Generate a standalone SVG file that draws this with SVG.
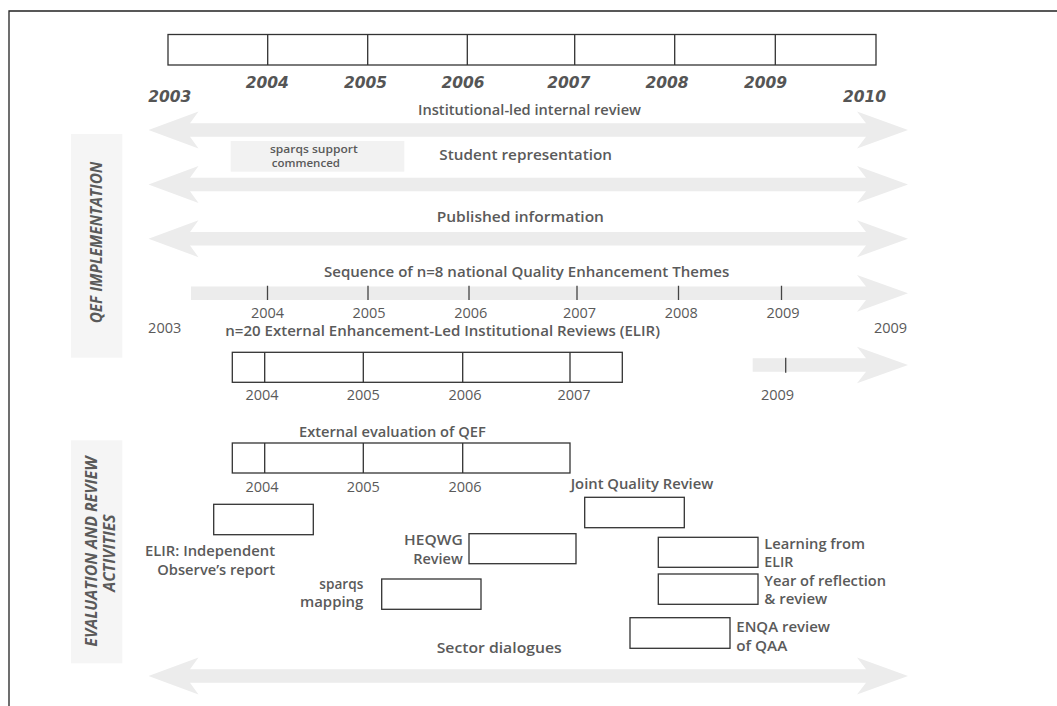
<svg xmlns="http://www.w3.org/2000/svg" width="1057" height="706" viewBox="0 0 1057 706">
<defs>
<style>
.frame{fill:none;stroke:#222;stroke-width:1.3}
.box{fill:#fff;stroke:#333;stroke-width:1.3}
.div{stroke:#333;stroke-width:1.3}
.tick{stroke:#444;stroke-width:1.3}
.arr{fill:#ececec}
.side{fill:#f5f5f5}
.lbl{font-family:"Open Sans","Liberation Sans",sans-serif;font-weight:600;font-size:13.5px;fill:#5a5a5a}
.small{font-family:"Open Sans","Liberation Sans",sans-serif;font-weight:600;font-size:9.8px;fill:#5a5a5a}
.yr{font-family:"Open Sans","Liberation Sans",sans-serif;font-weight:400;font-size:14.5px;fill:#5a5a5a;text-anchor:middle}
.byr{font-family:"DejaVu Sans",sans-serif;font-weight:700;font-style:italic;font-size:15.5px;fill:#555;text-anchor:middle}
.sidet{font-family:"Open Sans","Liberation Sans",sans-serif;font-weight:700;font-style:italic;font-size:15.5px;fill:#5a5a5a}
</style>
</defs>
<rect width="1057" height="706" fill="#fff"/>
<path class="frame" d="M9,706 V11 H1057"/>

<g id="timeline-top">
<rect class="box" x="168" y="34.5" width="708" height="30.5"/>
<path class="div" d="M267.7,34.5V65 M367.7,34.5V65 M467.3,34.5V65 M574.7,34.5V65 M674.7,34.5V65 M775.3,34.5V65"/>
<text class="byr" x="169.7" y="101.7">2003</text>
<text class="byr" x="267.2" y="88.3">2004</text>
<text class="byr" x="365.5" y="88.3">2005</text>
<text class="byr" x="463" y="88.3">2006</text>
<text class="byr" x="568.8" y="88.3">2007</text>
<text class="byr" x="667" y="88.3">2008</text>
<text class="byr" x="765.5" y="88.3">2009</text>
<text class="byr" x="864.5" y="101.7">2010</text>
</g>

<g id="side-qef">
<rect class="side" x="71" y="134" width="51.3" height="223.7"/>
<text class="sidet" transform="translate(101.5,323.3) rotate(-90)" x="0" y="0" textLength="161.6" lengthAdjust="spacingAndGlyphs">QEF IMPLEMENTATION</text>
</g>

<g id="side-eval">
<rect class="side" x="71" y="440.3" width="51.3" height="223"/>
<text class="sidet" transform="translate(97.3,646.7) rotate(-90)" x="0" y="0" textLength="190" lengthAdjust="spacingAndGlyphs">EVALUATION AND REVIEW</text>
<text class="sidet" transform="translate(115,591.7) rotate(-90)" x="0" y="0" textLength="77.4" lengthAdjust="spacingAndGlyphs">ACTIVITIES</text>
</g>

<g id="connectors">
<path id="arrow-institutional" class="arr" d="M148.5,130 L198.5,111.5 L190,123.3 L866,123.3 L857,111.5 L908,130 L857,148.5 L866,136.7 L190,136.7 L198.5,148.5 Z"/>
<path id="arrow-student" class="arr" d="M148.5,184.5 L198.5,166 L190,177.8 L866,177.8 L857,166 L908,184.5 L857,203 L866,191.2 L190,191.2 L198.5,203 Z"/>
<path id="arrow-published" class="arr" d="M148.5,238.7 L198.5,220.2 L190,232 L866,232 L857,220.2 L908,238.7 L857,257.2 L866,245.4 L190,245.4 L198.5,257.2 Z"/>
<path id="arrow-themes" class="arr" d="M191,286.5 L866,286.5 L857,275 L908,293.3 L857,311.7 L866,300 L191,300 Z"/>
<path id="arrow-elir2009" class="arr" d="M752.7,358.3 L866,358.3 L857,346.7 L908,365 L857,383.3 L866,371.7 L752.7,371.7 Z"/>
<path id="arrow-sector" class="arr" d="M148.5,676 L198.5,657.5 L190,669.3 L866,669.3 L857,657.5 L908,676 L857,694.5 L866,682.7 L190,682.7 L198.5,694.5 Z"/>
</g>

<g id="institutional-review">
<text class="lbl" x="418" y="115" textLength="223" lengthAdjust="spacingAndGlyphs">Institutional-led internal review</text>
</g>

<g id="student-representation">
<rect x="230.7" y="141" width="173.6" height="30.7" fill="#f2f2f2"/>
<text class="small" x="270" y="153.3" textLength="87.7" lengthAdjust="spacingAndGlyphs">sparqs support</text>
<text class="small" x="271.7" y="167" textLength="68.3" lengthAdjust="spacingAndGlyphs">commenced</text>
<text class="lbl" x="439.3" y="160" textLength="172.7" lengthAdjust="spacingAndGlyphs">Student representation</text>
</g>

<g id="published-information">
<text class="lbl" x="436.7" y="221.7" textLength="167.3" lengthAdjust="spacingAndGlyphs">Published information</text>
</g>

<g id="themes">
<text class="lbl" x="324" y="277.3" textLength="405.3" lengthAdjust="spacingAndGlyphs">Sequence of n=8 national Quality Enhancement Themes</text>
<path class="tick" d="M267.5,285.7V300 M368,285.7V300 M469,285.7V300 M577,285.7V300 M678.5,285.7V300 M781.5,285.7V300"/>
<text class="yr" x="164.7" y="333">2003</text>
<text class="yr" x="267.5" y="318">2004</text>
<text class="yr" x="369" y="318">2005</text>
<text class="yr" x="470.8" y="318">2006</text>
<text class="yr" x="579.5" y="318">2007</text>
<text class="yr" x="681.3" y="318">2008</text>
<text class="yr" x="783" y="318">2009</text>
<text class="yr" x="890.5" y="333">2009</text>
</g>

<g id="elir">
<text class="lbl" x="225.3" y="335.7" textLength="434.7" lengthAdjust="spacingAndGlyphs">n=20 External Enhancement-Led Institutional Reviews (ELIR)</text>
<rect class="box" x="232.3" y="352.3" width="390" height="30"/>
<path class="div" d="M264.7,352.3V382.3 M363.3,352.3V382.3 M462.7,352.3V382.3 M570,352.3V382.3"/>
<path class="tick" d="M785.7,357.7V372.7"/>
<text class="yr" x="262" y="400">2004</text>
<text class="yr" x="363.3" y="400">2005</text>
<text class="yr" x="465" y="400">2006</text>
<text class="yr" x="574" y="400">2007</text>
<text class="yr" x="777.5" y="400">2009</text>
</g>

<g id="external-evaluation">
<text class="lbl" x="299" y="436.7" textLength="186.7" lengthAdjust="spacingAndGlyphs">External evaluation of QEF</text>
<rect class="box" x="232.3" y="443" width="337.7" height="30"/>
<path class="div" d="M264.7,443V473 M363.3,443V473 M462.7,443V473"/>
<text class="yr" x="262" y="492">2004</text>
<text class="yr" x="363.3" y="492">2005</text>
<text class="yr" x="465" y="492">2006</text>
</g>

<g id="elir-observer">
<rect class="box" x="213.7" y="504.3" width="99.6" height="30.4"/>
<text class="lbl" x="145" y="555.7" textLength="130" lengthAdjust="spacingAndGlyphs">ELIR: Independent</text>
<text class="lbl" x="157.3" y="575" textLength="117.7" lengthAdjust="spacingAndGlyphs">Observe’s report</text>
</g>

<g id="heqwg">
<rect class="box" x="469" y="533.7" width="107" height="30"/>
<text class="lbl" x="404" y="545" textLength="58.7" lengthAdjust="spacingAndGlyphs">HEQWG</text>
<text class="lbl" x="413.3" y="564" textLength="49.4" lengthAdjust="spacingAndGlyphs">Review</text>
</g>

<g id="sparqs-mapping">
<rect class="box" x="381.7" y="579" width="99.3" height="30.3"/>
<text class="lbl" x="319.3" y="589" textLength="44" lengthAdjust="spacingAndGlyphs">sparqs</text>
<text class="lbl" x="300" y="607" textLength="63.3" lengthAdjust="spacingAndGlyphs">mapping</text>
</g>

<g id="joint-quality">
<text class="lbl" x="570.7" y="489" textLength="142.6" lengthAdjust="spacingAndGlyphs">Joint Quality Review</text>
<rect class="box" x="584.7" y="497.3" width="99.6" height="30.4"/>
</g>

<g id="learning-elir">
<rect class="box" x="658.3" y="537.3" width="99.7" height="30"/>
<text class="lbl" x="764.3" y="549" textLength="100.7" lengthAdjust="spacingAndGlyphs">Learning from</text>
<text class="lbl" x="764.3" y="567" textLength="29" lengthAdjust="spacingAndGlyphs">ELIR</text>
</g>

<g id="year-reflection">
<rect class="box" x="658.3" y="574" width="99.7" height="30.3"/>
<text class="lbl" x="764.3" y="586" textLength="121.7" lengthAdjust="spacingAndGlyphs">Year of reflection</text>
<text class="lbl" x="764.3" y="604" textLength="63" lengthAdjust="spacingAndGlyphs">&amp; review</text>
</g>

<g id="enqa">
<rect class="box" x="630" y="617.7" width="100" height="30.6"/>
<text class="lbl" x="736.3" y="631.7" textLength="93.7" lengthAdjust="spacingAndGlyphs">ENQA review</text>
<text class="lbl" x="736.3" y="650.7" textLength="51" lengthAdjust="spacingAndGlyphs">of QAA</text>
</g>

<g id="sector-dialogues">
<text class="lbl" x="436.7" y="652.7" textLength="125" lengthAdjust="spacingAndGlyphs">Sector dialogues</text>
</g>
</svg>
